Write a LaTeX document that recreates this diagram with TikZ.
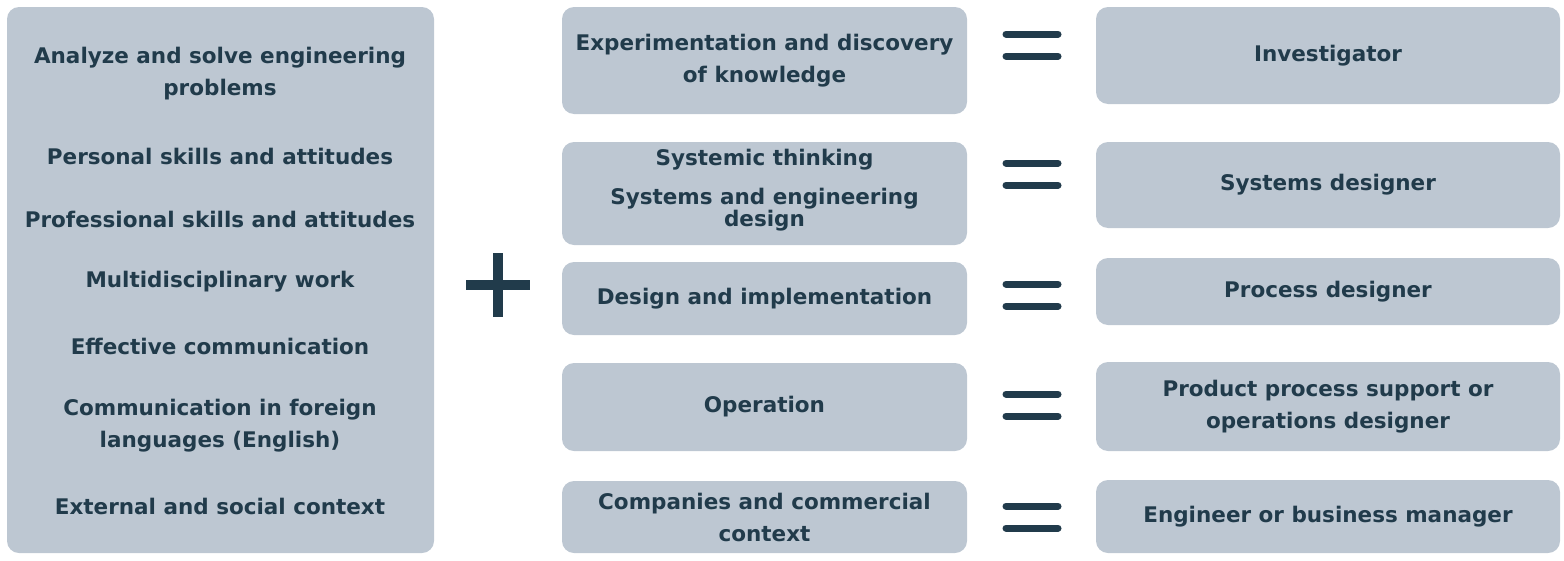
\documentclass[tikz,border=0pt]{standalone}
\usepackage{fontspec}
\setmainfont{DejaVu Sans}
\definecolor{boxfill}{HTML}{BDC7D2}
\definecolor{ink}{HTML}{213B4B}

\begin{document}
\begin{tikzpicture}[x=1pt,y=-1pt,
	box/.style={fill=boxfill, rounded corners=12pt, inner sep=0pt},
	lbl/.style={text=ink, font=\bfseries\fontsize{21.5}{32}\selectfont, align=center, inner sep=0pt},
	eqbar/.style={draw=ink, line width=7pt, line cap=round}]
	\useasboundingbox (0,0) rectangle (1564,560);

	% left: skills
	\node[box, minimum width=427, minimum height=546] (skills) at (220.5,280) {};
	\node[lbl] (sk1) at (220,74) {Analyze and solve engineering\\problems};
	\node[lbl] (sk2) at (220,156) {Personal skills and attitudes};
	\node[lbl] (sk3) at (220,219) {Professional skills and attitudes};
	\node[lbl] (sk4) at (220,282) {Multidisciplinary work};
	\node[lbl] (sk5) at (220,346) {Effective communication};
	\node[lbl] (sk6) at (220,426) {Communication in foreign\\languages (English)};
	\node[lbl] (sk7) at (220,506) {External and social context};

	% plus
	\draw[ink, line width=10pt] (498,253)--(498,317);
	\draw[ink, line width=10pt] (466,285)--(530,285);

	% middle: competences
	\node[box, lbl, minimum width=405, minimum height=107] (exp) at (764.5,60.5) {Experimentation and discovery\\of knowledge};
	\node[box, minimum width=405, minimum height=103] (sys) at (764.5,193.5) {};
	\node[lbl] (sysa) at (764.5,160) {Systemic thinking};
	\node[lbl, font=\bfseries\fontsize{21.5}{20}\selectfont] (sysb) at (764.5,210) {Systems and engineering\\design};
	\node[box, lbl, minimum width=405, minimum height=73] (des) at (764.5,298.5) {Design and implementation};
	\node[box, lbl, minimum width=405, minimum height=88] (ope) at (764.5,407) {Operation};
	\node[box, lbl, minimum width=405, minimum height=72] (com) at (764.5,517) {Companies and commercial\\context};

	% equals
	\foreach \y in {45,174,295,405,517}{
		\draw[eqbar] (1006,\y-11)--(1058,\y-11);
		\draw[eqbar] (1006,\y+11)--(1058,\y+11);
	}

	% right: profiles
	\node[box, lbl, minimum width=464, minimum height=97] (inv) at (1328,55.5) {Investigator};
	\node[box, lbl, minimum width=464, minimum height=86] (sdes) at (1328,185) {Systems designer};
	\node[box, lbl, minimum width=464, minimum height=67] (pdes) at (1328,291.5) {Process designer};
	\node[box, lbl, minimum width=464, minimum height=89] (odes) at (1328,406.5) {Product process support or\\operations designer};
	\node[box, lbl, minimum width=464, minimum height=73] (mgr) at (1328,516.5) {Engineer or business manager};
\end{tikzpicture}
\end{document}
